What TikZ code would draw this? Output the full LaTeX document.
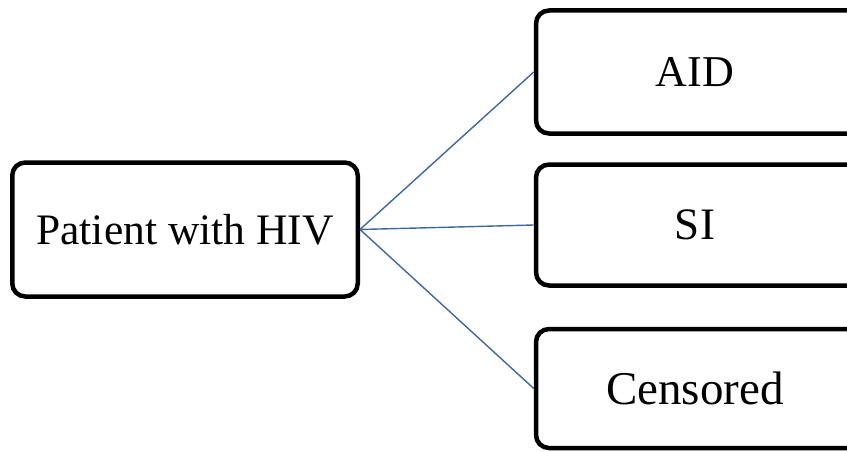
\documentclass[tikz,border=0pt]{standalone}
\usepackage{fontspec}
\setmainfont{Liberation Serif}
\begin{document}
\begin{tikzpicture}[x=1pt,y=-1pt,
  box/.style={draw=black, line width=4.5pt, rounded corners=13pt, rectangle, inner sep=0pt, fill=white},
  rbox/.style={box, minimum width=332pt},
  link/.style={draw=linkblue, line width=1.4pt}]
\definecolor{linkblue}{HTML}{3E68A0}
\useasboundingbox (0,0) rectangle (847,452);
\node[box, minimum width=345.5pt, minimum height=134pt, font=\fontsize{43.5}{48}\selectfont] (p) at (185,229.5) {Patient with HIV};
\node[rbox, minimum height=123pt, font=\fontsize{44}{52}\selectfont] (aid) at (702,72) {AID\rule{14pt}{0pt}};
\node[rbox, minimum height=121pt, font=\fontsize{45}{52}\selectfont] (si) at (702,225) {SI\rule{14pt}{0pt}};
\node[rbox, minimum height=119pt, font=\fontsize{47}{52}\selectfont] (cen) at (702,388.5) {Censored\rule{14pt}{0pt}};
\draw[link] (p.east) -- (aid.west);
\draw[link] (p.east) -- (si.west);
\draw[link] (p.east) -- (cen.west);
\end{tikzpicture}
\end{document}
